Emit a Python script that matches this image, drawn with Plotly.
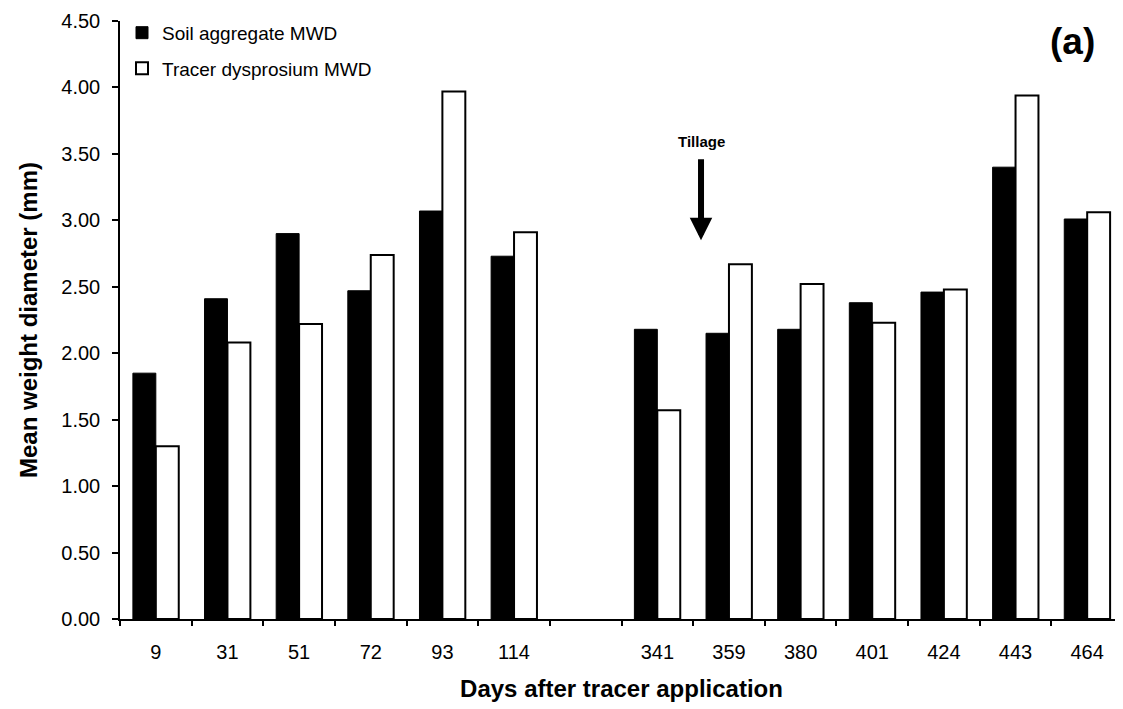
import plotly.graph_objects as go

# ---- data ----
days = ["9", "31", "51", "72", "93", "114", "341", "359", "380", "401", "424", "443", "464"]
soil_mwd = [1.85, 2.41, 2.90, 2.47, 3.07, 2.73, 2.18, 2.15, 2.18, 2.38, 2.46, 3.40, 3.01]
tracer_mwd = [1.30, 2.08, 2.22, 2.74, 3.97, 2.91, 1.57, 2.67, 2.52, 2.23, 2.48, 3.94, 3.06]
y_ticks = [0.0, 0.5, 1.0, 1.5, 2.0, 2.5, 3.0, 3.5, 4.0, 4.5]

# empty category between the two sampling years (break in the time axis)
gap_after = "114"
cats, soil_y, tracer_y = [], [], []
for d, s, t in zip(days, soil_mwd, tracer_mwd):
    cats.append(d)
    soil_y.append(s)
    tracer_y.append(t)
    if d == gap_after:
        cats.append(" ")
        soil_y.append(None)
        tracer_y.append(None)

FONT = "Liberation Sans, Arial, Helvetica, sans-serif"

fig = go.Figure()
fig.add_trace(go.Bar(
    x=cats, y=soil_y, name="Soil aggregate MWD",
    marker=dict(color="black", line=dict(color="black", width=1)),
    legendgroup="a",
))
fig.add_trace(go.Bar(
    x=cats, y=tracer_y, name="Tracer dysprosium MWD",
    marker=dict(color="white", line=dict(color="black", width=2)),
    legendgroup="b",
))

tillage_pos = cats.index("341") + 0.61

fig.add_annotation(
    x=tillage_pos, y=2.85, xref="x", yref="y",
    text="<b>Tillage</b>", showarrow=True,
    ax=0, ay=-99, axref="pixel", ayref="pixel",
    arrowhead=2, arrowsize=0.75, arrowwidth=6, arrowcolor="black",
    startstandoff=8,
    font=dict(family=FONT, size=15, color="black"),
)
fig.add_annotation(
    x=0.950, y=0.966, xref="paper", yref="paper",
    text="<b>(a)</b>", showarrow=False,
    xanchor="center", yanchor="middle",
    font=dict(family=FONT, size=37, color="black"),
)

fig.update_layout(
    width=1115, height=701,
    margin=dict(l=112, r=0, t=13, b=90),
    paper_bgcolor="white", plot_bgcolor="white",
    font=dict(family=FONT, color="black"),
    barmode="group", bargap=0.36, bargroupgap=0.0,
    showlegend=True,
    legend=dict(
        x=0.002, y=1.012, xanchor="left", yanchor="top",
        bgcolor="rgba(0,0,0,0)", font=dict(family=FONT, size=19, color="black"),
        tracegroupgap=8, traceorder="grouped",
    ),
    xaxis=dict(
        type="category", tickson="boundaries",
        ticks="outside", ticklen=5, tickwidth=1.5, tickcolor="black",
        showline=True, linecolor="black", linewidth=1.5,
        showgrid=False, zeroline=False,
        tickfont=dict(family=FONT, size=20, color="black"),
        ticklabelstandoff=14,
        title=dict(text="<b>Days after tracer application</b>",
                   font=dict(family=FONT, size=24, color="black"), standoff=18),
        automargin=False,
    ),
    yaxis=dict(
        range=[0, 4.5], tickvals=y_ticks, tickformat=".2f",
        ticks="outside", ticklen=6, tickwidth=1.5, tickcolor="black",
        showline=True, linecolor="black", linewidth=1.5,
        showgrid=False, zeroline=False,
        tickfont=dict(family=FONT, size=20, color="black"),
        ticklabelstandoff=8, ticklabeloverflow="allow",
        title=dict(text="<b>Mean weight diameter (mm)</b>",
                   font=dict(family=FONT, size=24, color="black"), standoff=17),
        automargin=False,
    ),
)

fig.write_html("out.html")
